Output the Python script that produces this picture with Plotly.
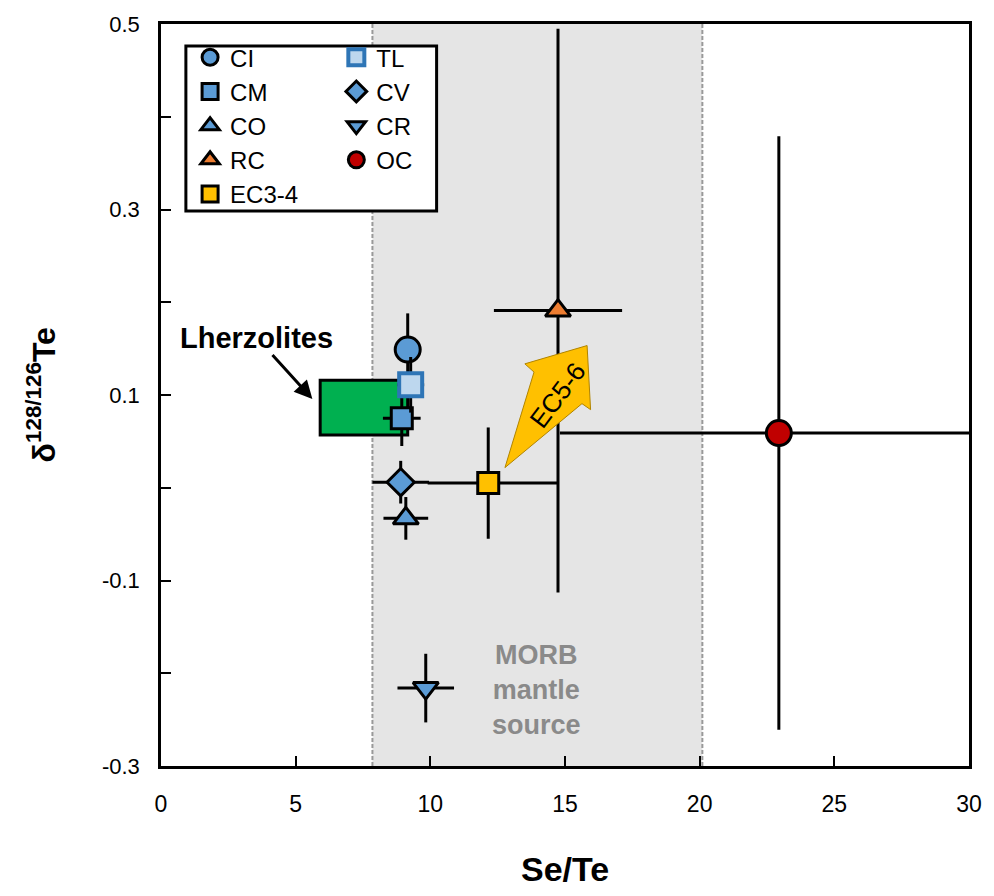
import plotly.graph_objects as go

# ---------------- data ----------------
names      = ["CI", "CM", "CO", "RC", "EC3-4", "TL", "CV", "CR", "OC"]
se_te      = [9.16, 8.94, 9.09, 14.74, 12.15, 9.27, 8.90, 9.83, 22.94]
delta_te   = [0.149, 0.075, -0.033, 0.191, 0.005, 0.111, 0.006, -0.216, 0.059]
se_te_errp = [0.0, 0.70, 0.83, 2.38, 2.61, 0.50, 1.05, 1.05, 8.13]
se_te_errm = [0.0, 0.70, 0.83, 2.38, 2.25, 0.50, 1.05, 1.05, 8.13]
delta_err  = [0.039, 0.030, 0.023, 0.304, 0.060, 0.030, 0.023, 0.037, 0.320]
symbols    = ["circle", "square", "triangle-up", "triangle-up", "square",
              "square", "diamond", "triangle-down", "circle"]
fills      = ["#5B9BD5", "#5B9BD5", "#5B9BD5", "#ED7D31", "#FFC000",
              "#BDD7EE", "#5B9BD5", "#5B9BD5", "#C00000"]
edges      = ["black", "black", "black", "black", "black",
              "#2E75B6", "black", "black", "black"]
edge_w     = [3, 3, 3, 3, 3, 4, 3, 3, 3]
sizes      = [25, 21, 22, 22, 21, 23, 21, 22, 25]
legends    = ["legend", "legend", "legend", "legend", "legend",
              "legend2", "legend2", "legend2", "legend2"]

# MORB mantle source band (Se/Te range)
morb_range = [7.85, 20.1]
# Lherzolites field (Se/Te, delta)
lherz_x = [5.91, 9.16]
lherz_y = [0.057, 0.116]
# EC5-6 block arrow outline (Se/Te, delta)
ec56_x = [12.77, 13.85, 13.51, 15.82, 15.95, 15.63]
ec56_y = [0.0217, 0.1247, 0.1336, 0.1533, 0.0842, 0.0907]

x_ticks = [0, 5, 10, 15, 20, 25, 30]
y_ticks = [-0.3, -0.1, 0.1, 0.3, 0.5]
y_tick_text = ["-0.3", "-0.1", "0.1", "0.3", "0.5"]

FONT = "Liberation Sans, Arial, sans-serif"

fig = go.Figure()

for i, n in enumerate(names):
    fig.add_trace(go.Scatter(
        x=[se_te[i]], y=[delta_te[i]], mode="markers", name=n,
        legend=legends[i],
        marker=dict(symbol=symbols[i], size=sizes[i], color=fills[i],
                    line=dict(color=edges[i], width=edge_w[i])),
        error_x=dict(type="data", symmetric=False, array=[se_te_errp[i]],
                     arrayminus=[se_te_errm[i]], color="black",
                     thickness=3, width=0, visible=se_te_errp[i] > 0),
        error_y=dict(type="data", array=[delta_err[i]], color="black",
                     thickness=3, width=0),
    ))

shapes = [
    dict(type="rect", xref="x", yref="paper", x0=morb_range[0], x1=morb_range[1],
         y0=0, y1=1, fillcolor="#E5E5E5", line=dict(width=0), layer="below"),
    dict(type="line", xref="x", yref="paper", x0=morb_range[0], x1=morb_range[0],
         y0=0, y1=1, line=dict(color="#999999", width=2, dash="4px,2px"), layer="below"),
    dict(type="line", xref="x", yref="paper", x0=morb_range[1], x1=morb_range[1],
         y0=0, y1=1, line=dict(color="#999999", width=2, dash="4px,2px"), layer="below"),
    dict(type="rect", xref="x", yref="y", x0=lherz_x[0], x1=lherz_x[1],
         y0=lherz_y[0], y1=lherz_y[1], fillcolor="#00B050",
         line=dict(color="black", width=3), layer="below"),
    # legend frame
    dict(type="rect", xref="paper", yref="paper", x0=0.0308, x1=0.3411,
         y0=0.748, y1=0.9705, fillcolor="white",
         line=dict(color="black", width=3), layer="below"),
]
path = "M " + " L ".join(f"{a},{b}" for a, b in zip(ec56_x, ec56_y)) + " Z"
shapes.append(dict(type="path", xref="x", yref="y", path=path,
                   fillcolor="#FFC000", line=dict(color="#B08400", width=1),
                   layer="above"))

annotations = [
    dict(x=5.62, y=0.0957, xref="x", yref="y", ax=3.55, ay=0.162,
         axref="x", ayref="y", text="<b>Lherzolites</b>", showarrow=True,
         arrowhead=2, arrowsize=1.2, arrowwidth=3, arrowcolor="black",
         font=dict(family=FONT, size=29, color="black")),
    dict(x=14.74, y=0.0997, xref="x", yref="y", text="EC5-6", textangle=-53,
         showarrow=False, font=dict(family=FONT, size=26, color="black")),
    dict(x=13.93, y=-0.2185, xref="x", yref="y",
         text="<b>MORB<br>mantle<br>source</b>", showarrow=False,
         font=dict(family=FONT, size=27, color="#8A8A8A")),
    dict(x=-0.148, y=0.5, xref="paper", yref="paper",
         text="<b>δ<sup>128/126</sup>Te</b>", textangle=-90, showarrow=False,
         xanchor="center", yanchor="middle",
         font=dict(family=FONT, size=32, color="black")),
    dict(x=0.5, y=-0.139, xref="paper", yref="paper", text="<b>Se/Te</b>",
         showarrow=False, xanchor="center", yanchor="middle",
         font=dict(family=FONT, size=34, color="black")),
]

legend_common = dict(bgcolor="rgba(0,0,0,0)", borderwidth=0,
                     font=dict(family=FONT, size=24, color="black"),
                     xanchor="left", yanchor="top", itemsizing="trace",
                     tracegroupgap=0)

fig.update_layout(
    width=994, height=896,
    margin=dict(l=161, r=19, t=20, b=130),
    plot_bgcolor="white", paper_bgcolor="white",
    font=dict(family=FONT, size=22, color="black"),
    showlegend=True,
    legend=dict(x=0.036, y=0.985, **legend_common),
    legend2=dict(x=0.217, y=0.985, **legend_common),
    shapes=shapes, annotations=annotations,
    xaxis=dict(range=[0, 30], tickvals=x_ticks, ticks="inside", ticklen=10,
               tickwidth=2, tickcolor="black", showline=True, linecolor="black",
               linewidth=2.5, mirror=True, showgrid=False, zeroline=False,
               ticklabelstandoff=16, tickfont=dict(family=FONT, size=23)),
    yaxis=dict(range=[-0.3, 0.5], tickmode="array", tickvals=y_ticks,
               ticktext=y_tick_text, ticks="inside", ticklen=10, tickwidth=2,
               tickcolor="black", showline=True, linecolor="black",
               linewidth=2.5, mirror=True, showgrid=False, zeroline=False,
               ticklabelstandoff=14, tickfont=dict(family=FONT, size=22),
               minor=dict(dtick=0.1, tick0=0, ticks="inside", ticklen=10,
                          tickwidth=2, tickcolor="black", showgrid=False)),
)

fig.write_html("out.html")
